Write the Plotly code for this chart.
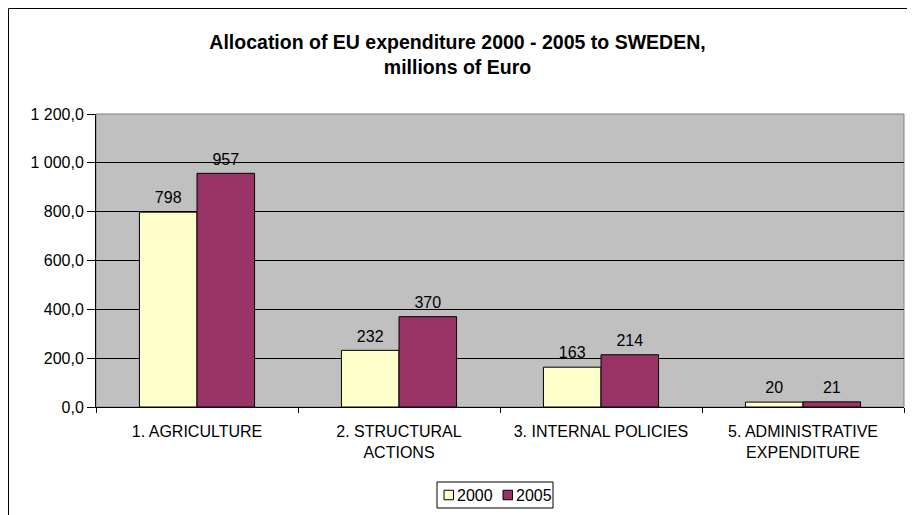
import plotly.graph_objects as go

categories = ["1. AGRICULTURE", "2. STRUCTURAL<br>ACTIONS", "3. INTERNAL POLICIES", "5. ADMINISTRATIVE<br>EXPENDITURE"]
values_2000 = [798, 232, 163, 20]
values_2005 = [957, 370, 214, 21]
series_names = ["2000", "2005"]
series_colors = ["#FFFFCC", "#993366"]
y_ticks = [0, 200, 400, 600, 800, 1000, 1200]

FONT = "Liberation Sans, Arial, sans-serif"
BARGAP = 0.43

# figure geometry (pixels)
W, H = 907, 507
L, R, T, B = 88, 11, 106, 108
PW, PH = W - L - R, H - T - B


def px(x):
    return (x - L) / PW


def py(y):
    return (H - B - y) / PH


fig = go.Figure()
for name, vals, col in zip(series_names, [values_2000, values_2005], series_colors):
    fig.add_trace(go.Bar(
        x=categories, y=vals, name=name,
        marker=dict(color=col, line=dict(color="black", width=1)),
        hoverinfo="skip", showlegend=False,
    ))
for name, vals in zip(series_names, [values_2000, values_2005]):
    fig.add_trace(go.Scatter(
        x=categories, y=vals, name=name + " labels",
        mode="markers+text", text=[str(v) for v in vals],
        textposition="top center",
        textfont=dict(family=FONT, size=16, color="black"),
        marker=dict(size=6, opacity=0),
        showlegend=False, hoverinfo="skip", cliponaxis=False,
    ))

# custom compact legend (box, swatches, labels)
LEG_X0, LEG_X1, LEG_Y0, LEG_Y1 = 429, 545, 474, 500
SW_X = [436, 495]
SW_SIZE = 9.5
shapes = [
    dict(type="rect", xref="x domain", yref="y domain", x0=0, x1=1, y0=0, y1=1,
         line=dict(color="#808080", width=1), fillcolor="rgba(0,0,0,0)", layer="below"),
    dict(type="rect", xref="paper", yref="paper",
         x0=px(0.5), x1=px(W + 50), y0=py(H + 50), y1=py(0.5),
         line=dict(color="black", width=1), fillcolor="rgba(0,0,0,0)"),
    dict(type="rect", xref="paper", yref="paper",
         x0=px(LEG_X0), x1=px(LEG_X1), y0=py(LEG_Y1), y1=py(LEG_Y0),
         line=dict(color="black", width=1), fillcolor="white"),
]
annotations = []
ymid = (LEG_Y0 + LEG_Y1) / 2
for name, col, sx in zip(series_names, series_colors, SW_X):
    shapes.append(dict(type="rect", xref="paper", yref="paper",
                       x0=px(sx), x1=px(sx + SW_SIZE),
                       y0=py(ymid + SW_SIZE / 2), y1=py(ymid - SW_SIZE / 2),
                       line=dict(color="black", width=1), fillcolor=col))
    annotations.append(dict(text=name, xref="paper", yref="paper",
                            x=px(sx + SW_SIZE + 1.5), y=py(ymid), xanchor="left", yanchor="middle",
                            showarrow=False, font=dict(family=FONT, size=16, color="black")))

fig.update_layout(
    width=W, height=H,
    margin=dict(l=L, r=R, t=T, b=B, autoexpand=False),
    paper_bgcolor="white", plot_bgcolor="#C0C0C0",
    separators=", ",
    font=dict(family=FONT, size=16, color="black"),
    barmode="group", bargap=BARGAP, bargroupgap=0,
    scattermode="group", scattergap=BARGAP,
    title=dict(
        text="<b>Allocation of EU expenditure 2000 - 2005 to SWEDEN,<br>millions of Euro</b>",
        x=449.5 / W, xref="container", xanchor="center",
        y=1 - 40.5 / H, yref="container", yanchor="top",
        font=dict(family=FONT, size=19.5, color="black"),
        automargin=False,
    ),
    showlegend=False,
    xaxis=dict(
        showline=True, linecolor="black", linewidth=1,
        ticks="outside", ticklen=5, tickcolor="black", tickson="boundaries",
        showgrid=False, tickfont=dict(family=FONT, size=16),
        automargin=False, ticklabelstandoff=10,
    ),
    yaxis=dict(
        range=[0, 1200], tickvals=y_ticks, tickformat=",.1f",
        showline=True, linecolor="black", linewidth=1,
        ticks="outside", ticklen=8, tickcolor="black",
        showgrid=True, gridcolor="black", gridwidth=1,
        zeroline=False, tickfont=dict(family=FONT, size=16),
        automargin=False,
    ),
    shapes=shapes,
    annotations=annotations,
)

fig.write_html("out.html")
